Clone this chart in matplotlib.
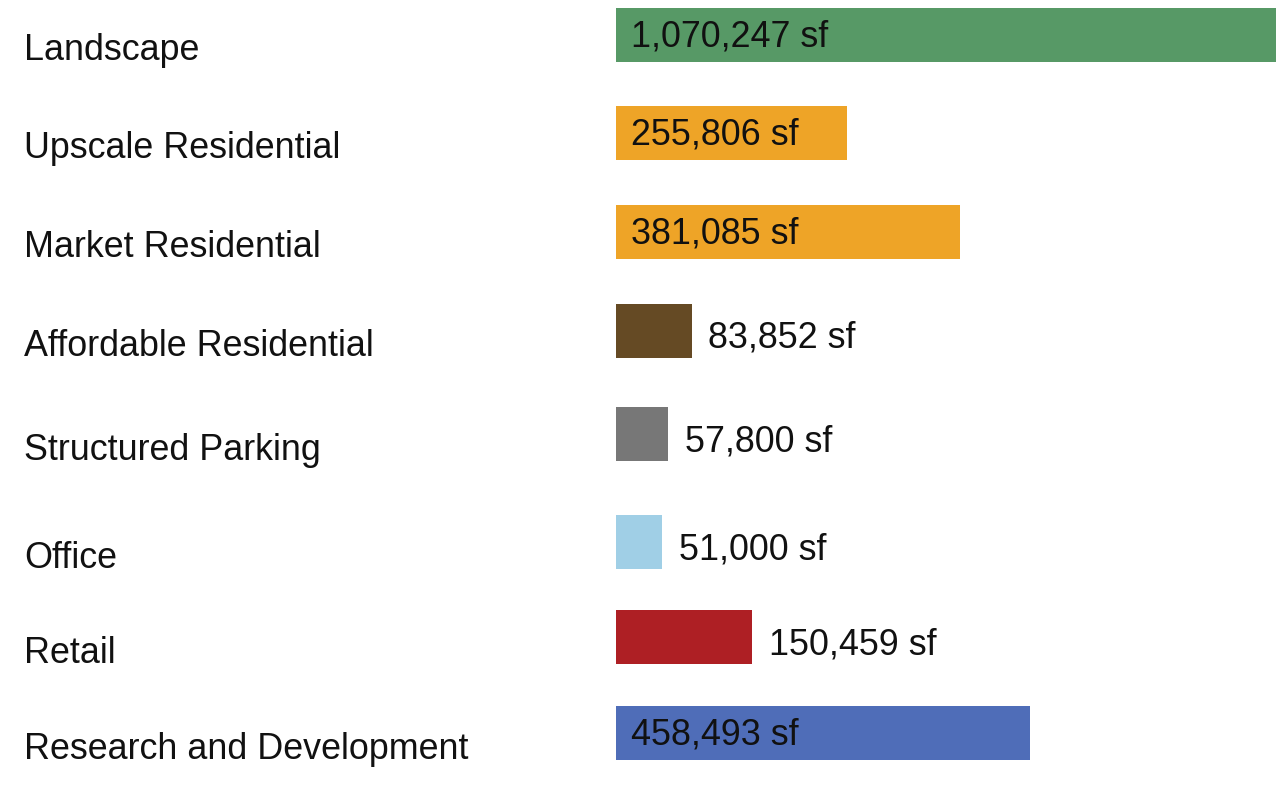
import matplotlib
matplotlib.use("Agg")
import matplotlib.pyplot as plt

# dados
categorias = ["Landscape", "Upscale Residential", "Market Residential",
              "Affordable Residential", "Structured Parking", "Office",
              "Retail", "Research and Development"]
areas = [1070247, 255806, 381085, 83852, 57800, 51000, 150459, 458493]
cores = ["#579966", "#EEA427", "#EEA427", "#654A24", "#777777",
         "#A0CFE6", "#AE1F24", "#4F6DB8"]
dentro = [True, True, True, False, False, False, False, True]  # rótulo dentro da barra?

# posições das linhas (o espaçamento no original não é uniforme)
pos_y = [0, 0.98, 1.97, 2.96, 4.0, 5.08, 6.03, 6.99]

plt.rcParams['font.family'] = ['Liberation Sans', 'DejaVu Sans']

fig = plt.figure(figsize=(12.76, 7.92), dpi=100)
ax = fig.add_axes([616 / 1276, 0, 660 / 1276, 1])

ax.barh(pos_y, areas, height=0.54, color=cores)

ax.set_xlim(0, 731000)
ax.set_ylim(7.58, -0.35)
ax.axis("off")

for i, (nome, v, d) in enumerate(zip(categorias, areas, dentro)):
    yy = pos_y[i]
    # nome da categoria na esquerda
    ax.text(-0.897, yy + 0.16, nome, transform=ax.get_yaxis_transform(),
            ha="left", va="center", fontsize=25.8, color="#111111")
    rotulo = f"{v:,} sf"
    if d:
        ax.annotate(rotulo, (0, yy), xytext=(10.5, -1.5), textcoords="offset points",
                    ha="left", va="center", fontsize=25.8, color="#111111")
    else:
        ax.annotate(rotulo, (v, yy), xytext=(12, -5.5), textcoords="offset points",
                    ha="left", va="center", fontsize=25.8, color="#111111")

fig.savefig("out.png", dpi=100)
